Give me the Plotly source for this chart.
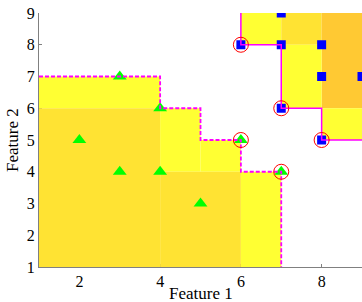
import plotly.graph_objects as go

# Class points
tri_x = [3, 4, 2, 3, 4, 5, 6, 7]
tri_y = [7, 6, 5, 4, 4, 3, 5, 4]
sq_x = [7, 6, 7, 8, 8, 9, 7, 8]
sq_y = [9, 8, 8, 8, 7, 7, 6, 5]
circ_x = [6, 7, 8, 6, 7]
circ_y = [8, 6, 5, 5, 4]

# Staircase boundaries
tri_edge_x = [1, 4, 4, 5, 5, 6, 6, 7, 7]
tri_edge_y = [7, 7, 6, 6, 5, 5, 4, 4, 1]
sq_edge_x = [6, 6, 7, 7, 8, 8, 9]
sq_edge_y = [9, 8, 8, 6, 6, 5, 5]

# Regions: x0, x1, y0, y1, shade
reg_x0 = [1, 4, 5, 6, 1, 4, 6, 7, 8, 7, 8]
reg_x1 = [4, 5, 6, 7, 4, 6, 7, 8, 9, 8, 9]
reg_y0 = [6, 4, 4, 1, 1, 1, 8, 8, 6, 6, 5]
reg_y1 = [7, 6, 5, 4, 6, 4, 9, 9, 9, 8, 6]
reg_shade = ["light", "light", "light", "light", "mid", "mid",
             "light", "mid", "deep", "light", "light"]

x_ticks = [2, 4, 6, 8]
y_ticks = [1, 2, 3, 4, 5, 6, 7, 8, 9]

shade_col = {"light": "#FFFF33", "mid": "#FFE333", "deep": "#FFC933"}

fig = go.Figure()
for x0, x1, y0, y1, s in zip(reg_x0, reg_x1, reg_y0, reg_y1, reg_shade):
    fig.add_trace(go.Scatter(x=[x0, x1, x1, x0, x0], y=[y0, y0, y1, y1, y0],
                             mode="lines", fill="toself", fillcolor=shade_col[s],
                             line=dict(width=0), hoverinfo="skip", showlegend=False))

fig.add_trace(go.Scatter(x=tri_x, y=tri_y, mode="markers",
                         marker=dict(symbol="triangle-up", size=12, color="#00FF00"),
                         showlegend=False))
fig.add_trace(go.Scatter(x=sq_x, y=sq_y, mode="markers",
                         marker=dict(symbol="square", size=9, color="#0000FF"),
                         showlegend=False))
fig.add_trace(go.Scatter(x=tri_edge_x, y=tri_edge_y, mode="lines",
                         line=dict(color="#FF00FF", width=1.8, dash="4px,2px"),
                         showlegend=False))
fig.add_trace(go.Scatter(x=sq_edge_x, y=sq_edge_y, mode="lines",
                         line=dict(color="#FF00FF", width=1.5),
                         showlegend=False))
fig.add_trace(go.Scatter(x=circ_x, y=circ_y, mode="markers",
                         marker=dict(symbol="circle-open", size=15, color="#FF0000",
                                     line=dict(width=1)),
                         showlegend=False))

font = dict(family="Liberation Serif, Times New Roman, serif", size=16, color="black")
tfont = dict(family="Liberation Serif, Times New Roman, serif", size=17, color="black")
fig.update_layout(
    width=362, height=302,
    margin=dict(l=39, r=0, t=13, b=35, autoexpand=False),
    plot_bgcolor="white", paper_bgcolor="white",
    font=font,
    xaxis=dict(range=[1, 9], tickvals=x_ticks, showgrid=False, zeroline=False,
               showline=True, linecolor="#808080", linewidth=1,
               ticks="inside", ticklen=3, tickcolor="#808080",
               layer="below traces", automargin=False, tickfont=font),
    yaxis=dict(range=[1, 9], tickvals=y_ticks, showgrid=False,
               zeroline=False, showline=True, linecolor="#808080", linewidth=1,
               ticks="inside", ticklen=3, tickcolor="#808080",
               layer="below traces", automargin=False, tickfont=font),
    annotations=[
        dict(text="Feature 1", xref="paper", yref="paper", x=0.5, y=-0.104,
             xanchor="center", yanchor="middle", showarrow=False, font=tfont),
        dict(text="Feature 2", xref="paper", x=-0.0836, xanchor="center",
             yref="paper", y=0.5, yanchor="middle", textangle=-90,
             showarrow=False, font=tfont),
    ],
)
fig.write_html(
    "out.html",
    config={"displayModeBar": False},
    post_script="document.body.style.margin='0';document.body.style.overflow='hidden';",
)
